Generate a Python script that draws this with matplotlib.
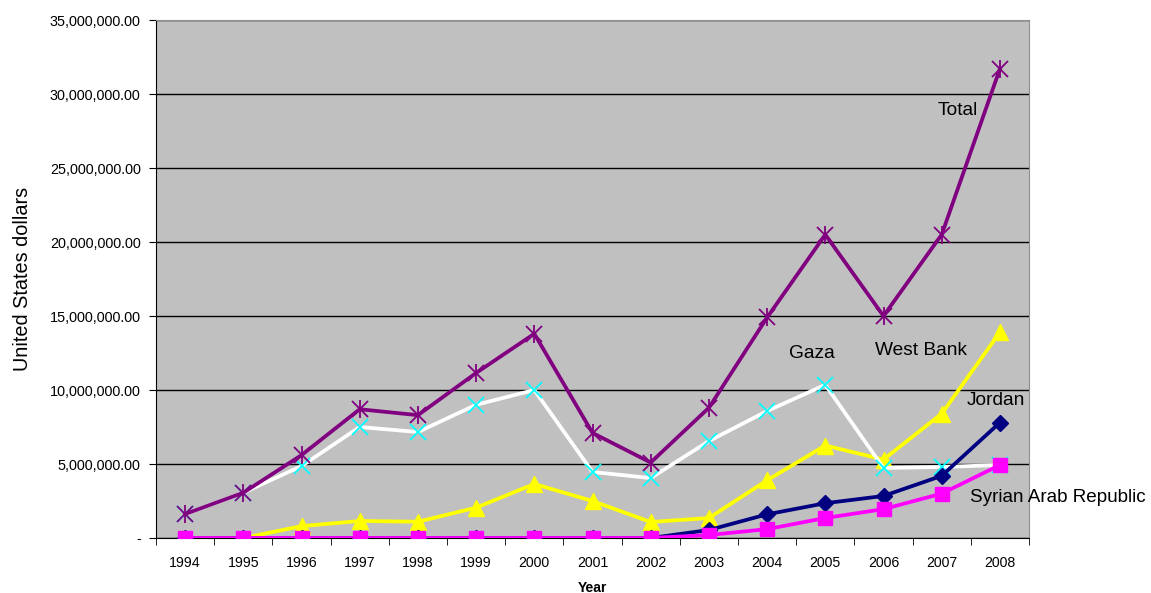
import matplotlib
matplotlib.use("Agg")
import matplotlib.pyplot as plt
from matplotlib.ticker import FuncFormatter, FixedLocator

plt.rcParams['font.family'] = ['Liberation Sans', 'DejaVu Sans']

years = [1994, 1995, 1996, 1997, 1998, 1999, 2000, 2001, 2002, 2003, 2004, 2005, 2006, 2007, 2008]
total = [1.62e6, 3.06e6, 5.6e6, 8.7e6, 8.3e6, 11.15e6, 13.8e6, 7.1e6, 5.1e6, 8.8e6, 14.9e6, 20.5e6, 15.0e6, 20.5e6, 31.7e6]
gaza = [1.62e6, 3.06e6, 4.86e6, 7.5e6, 7.16e6, 9.0e6, 10.0e6, 4.46e6, 4.05e6, 6.55e6, 8.58e6, 10.35e6, 4.73e6, 4.8e6, 4.93e6]
west_bank = [0, 0, 0.8e6, 1.15e6, 1.1e6, 2.05e6, 3.65e6, 2.5e6, 1.08e6, 1.35e6, 3.9e6, 6.25e6, 5.3e6, 8.4e6, 13.9e6]
jordan = [0, 0, 0, 0, 0, 0, 0, 0, 0, 0.54e6, 1.6e6, 2.35e6, 2.84e6, 4.2e6, 7.8e6]
syria = [0, 0, 0, 0, 0, 0, 0, 0, 0, 0.2e6, 0.6e6, 1.35e6, 1.95e6, 3.0e6, 4.93e6]

fig = plt.figure(figsize=(11.51, 5.93), dpi=100)
ax = fig.add_axes([156/1151, 1-538/593, (1029-156)/1151, (538-20)/593])
ax.set_facecolor('#C0C0C0')

x = list(range(len(years)))
lw = 2.7

ax.plot(x, west_bank, color='#FFFF00', lw=lw, marker='^', ms=11, mec='#FFFF00', zorder=3)
ax.plot(x, gaza, color='white', lw=lw, marker='x', ms=11, mec='#00FFFF', mew=1.3, zorder=4)
ax.plot(x, jordan, color='#000080', lw=lw, marker='D', ms=8, mec='#000080', zorder=5)
ax.plot(x, syria, color='#FF00FF', lw=lw, marker='s', ms=10, mec='#FF00FF', zorder=6)
ax.plot(x, total, color='#800080', lw=lw, marker='x', ms=11, mec='#800080', mew=1.3, zorder=7)
ax.plot(x, total, ls='none', marker='|', ms=13, mec='#800080', mew=1.3, zorder=7)

ax.set_xlim(-0.5, len(years) - 0.5)
ax.set_ylim(0, 35e6)
ax.set_xticks(x)
ax.set_xticklabels([str(y) for y in years], fontsize=10.2)
ax.xaxis.set_minor_locator(FixedLocator([i - 0.5 for i in range(len(years) + 1)]))
ax.tick_params(axis='x', which='major', length=0, pad=13)
ax.tick_params(axis='x', which='minor', length=5, direction='out', color='black')
ax.set_yticks([i * 5e6 for i in range(8)])
ax.yaxis.set_major_formatter(FuncFormatter(lambda v, p: '-' if v == 0 else f'{v:,.2f}'))
ax.tick_params(axis='y', length=5, direction='out', labelsize=10.4, pad=6)
ax.grid(axis='y', color='black', lw=1.0)
ax.set_axisbelow(True)

for s in ['top', 'right']:
    ax.spines[s].set_visible(True)
    ax.spines[s].set_color('#909090')
ax.spines['left'].set_color('black')
ax.spines['bottom'].set_color('black')

ax.set_ylabel('United States dollars', fontsize=14.3, labelpad=13)
ax.set_xlabel('Year', fontsize=10, fontweight='bold', labelpad=8)

ann = dict(fontsize=13.8, color='black', va='center', ha='center')
ax.text(13.27, 28.9e6, 'Total', **ann)
ax.text(10.77, 12.45e6, 'Gaza', **ann)
ax.text(12.64, 12.7e6, 'West Bank', **ann)
ax.text(13.93, 9.3e6, 'Jordan', **ann)
ax.text(13.49, 2.75e6, 'Syrian Arab Republic', fontsize=13.6, color='black', va='center', ha='left', clip_on=False)

fig.savefig('out.png', dpi=100)
